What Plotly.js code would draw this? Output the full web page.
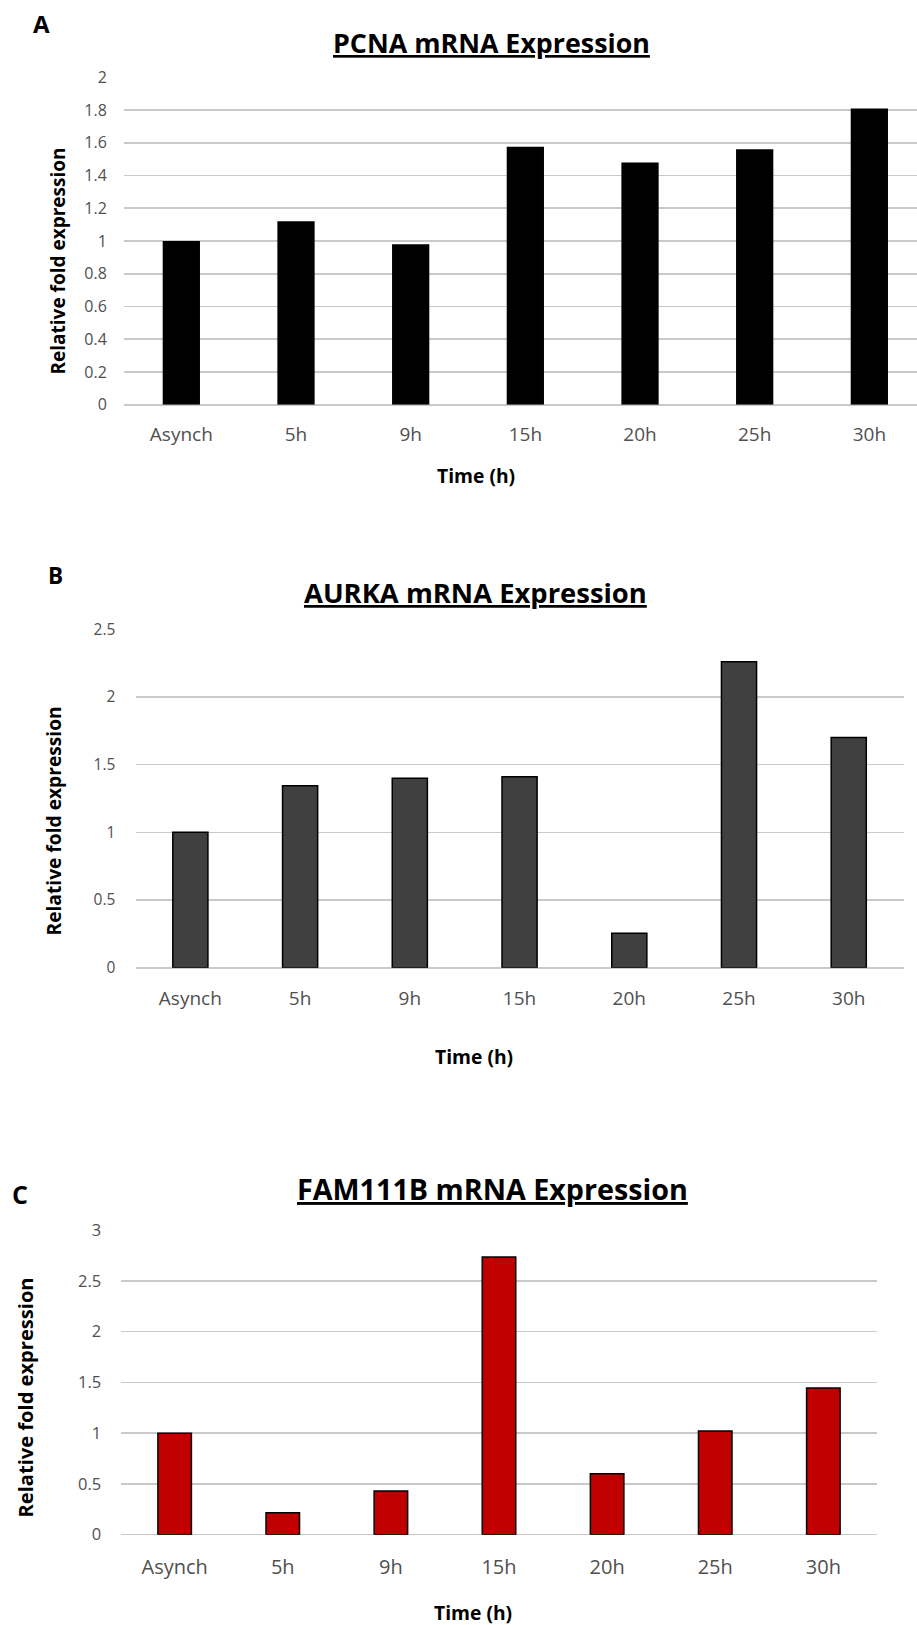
<!DOCTYPE html>
<html>
<head>
<meta charset="utf-8">
<script src="https://cdn.plot.ly/plotly-3.0.1.min.js"></script>
<style>
  html, body { margin: 0; padding: 0; background: #ffffff; }
  #fig { width: 917px; height: 1625px; }
</style>
</head>
<body>
<div id="fig"></div>
<script>
// Time points shared by all three panels
const timePoints = ['Asynch', '5h', '9h', '15h', '20h', '25h', '30h'];

// Relative fold expression per gene
const pcnaValues    = [1.0, 1.12, 0.98, 1.575, 1.48, 1.56, 1.81];
const aurkaValues   = [1.0, 1.345, 1.40, 1.41, 0.255, 2.26, 1.70];
const fam111bValues = [1.0, 0.215, 0.43, 2.735, 0.60, 1.02, 1.445];

// Panel labels and chart titles
const panelLetters = ['A', 'B', 'C'];
const chartTitles = ['PCNA mRNA Expression', 'AURKA mRNA Expression', 'FAM111B mRNA Expression'];
const yTitle = 'Relative fold expression';
const xTitle = 'Time (h)';

const W = 917, H = 1625;
const px = v => v / W;          // horizontal pixel -> paper
const py = v => 1 - v / H;      // vertical pixel -> paper

const FONT = 'Open Sans, Lato, sans-serif';
const TICK_GREY = '#505050';
const GRID = '#c9c9c9';

const traces = [
  { type: 'bar', x: timePoints, y: pcnaValues, xaxis: 'x', yaxis: 'y',
    width: 0.325, marker: { color: '#000000', line: { width: 0 } }, hoverinfo: 'none' },
  { type: 'bar', x: timePoints, y: aurkaValues, xaxis: 'x2', yaxis: 'y2',
    width: 0.32, marker: { color: '#404040', line: { color: '#000000', width: 1.5 } }, hoverinfo: 'none' },
  { type: 'bar', x: timePoints, y: fam111bValues, xaxis: 'x3', yaxis: 'y3',
    width: 0.31, marker: { color: '#C00000', line: { color: '#000000', width: 1.5 } }, hoverinfo: 'none' }
];

function xAxis(domain, range, anchor, fontSize, tickLen) {
  return {
    type: 'category', domain: domain, range: range, anchor: anchor,
    showgrid: false, showline: false, zeroline: false,
    ticks: 'outside', ticklen: tickLen, tickcolor: 'rgba(0,0,0,0)',
    tickfont: { family: FONT, size: fontSize, color: TICK_GREY },
    fixedrange: true
  };
}
function yAxis(domain, range, dtick, anchor, fontSize, tickLen) {
  return {
    domain: domain, range: range, dtick: dtick, tick0: 0, tickmode: 'linear', anchor: anchor,
    showgrid: true, gridcolor: GRID, gridwidth: 1.6,
    zeroline: true, zerolinecolor: GRID, zerolinewidth: 1.6,
    showline: false,
    ticks: 'outside', ticklen: tickLen, tickcolor: 'rgba(0,0,0,0)',
    tickfont: { family: FONT, size: fontSize, color: TICK_GREY },
    fixedrange: true
  };
}

function ann(text, x, y, size, opts) {
  return Object.assign({
    text: text, xref: 'paper', yref: 'paper', x: px(x), y: py(y),
    xanchor: 'center', yanchor: 'middle', showarrow: false,
    font: { family: FONT, size: size, color: '#000000', weight: 700 }
  }, opts || {});
}
function underlined(text, x, y, size) {
  return ann(text, x, y, size, {
    font: { family: FONT, size: size, color: '#000000', weight: 700, lineposition: 'under' }
  });
}

const layout = {
  width: W, height: H,
  margin: { l: 0, r: 0, t: 0, b: 0, pad: 0 },
  paper_bgcolor: '#ffffff', plot_bgcolor: '#ffffff',
  showlegend: false,
  font: { family: FONT },

  // Panel A: 124px .. 917px wide (plot continues past the edge), zero at 404.7px
  xaxis:  xAxis([px(124), 1], [-0.5, -0.5 + (917 - 124) / 114.67], 'y', 19, 12),
  yaxis:  yAxis([py(404.7), py(77.3)], [0, 2.00001], 0.2, 'x', 16, 13),

  // Panel B
  xaxis2: xAxis([px(135.5), px(903.6)], [-0.5, 6.5], 'y2', 19, 13),
  yaxis2: yAxis([py(967.7), py(629.3)], [0, 2.50001], 0.5, 'x2', 15.5, 16),

  // Panel C
  xaxis3: xAxis([px(120.6), px(877.4)], [-0.5, 6.5], 'y3', 20, 14),
  yaxis3: yAxis([py(1534.7), py(1230)], [0, 3.00001], 0.5, 'x3', 16.5, 15),

  annotations: [
    ann(panelLetters[0], 41, 23.5, 24),
    ann(panelLetters[1], 55.5, 576, 22.5),
    ann(panelLetters[2], 20, 1194, 25),

    underlined(chartTitles[0], 491, 42, 26.8),
    underlined(chartTitles[1], 475, 592, 27.4),
    underlined(chartTitles[2], 493, 1188, 28.7),

    ann(yTitle, 57.5, 261, 19, { textangle: -90 }),
    ann(yTitle, 52.5, 821, 19.2, { textangle: -90 }),
    ann(yTitle, 25, 1397.5, 20.1, { textangle: -90 }),

    ann(xTitle, 476, 476, 19.3),
    ann(xTitle, 474, 1056, 19.3),
    ann(xTitle, 473, 1612, 19.3)
  ]
};

Plotly.newPlot('fig', traces, layout, { staticPlot: true, displayModeBar: false });
</script>
</body>
</html>
